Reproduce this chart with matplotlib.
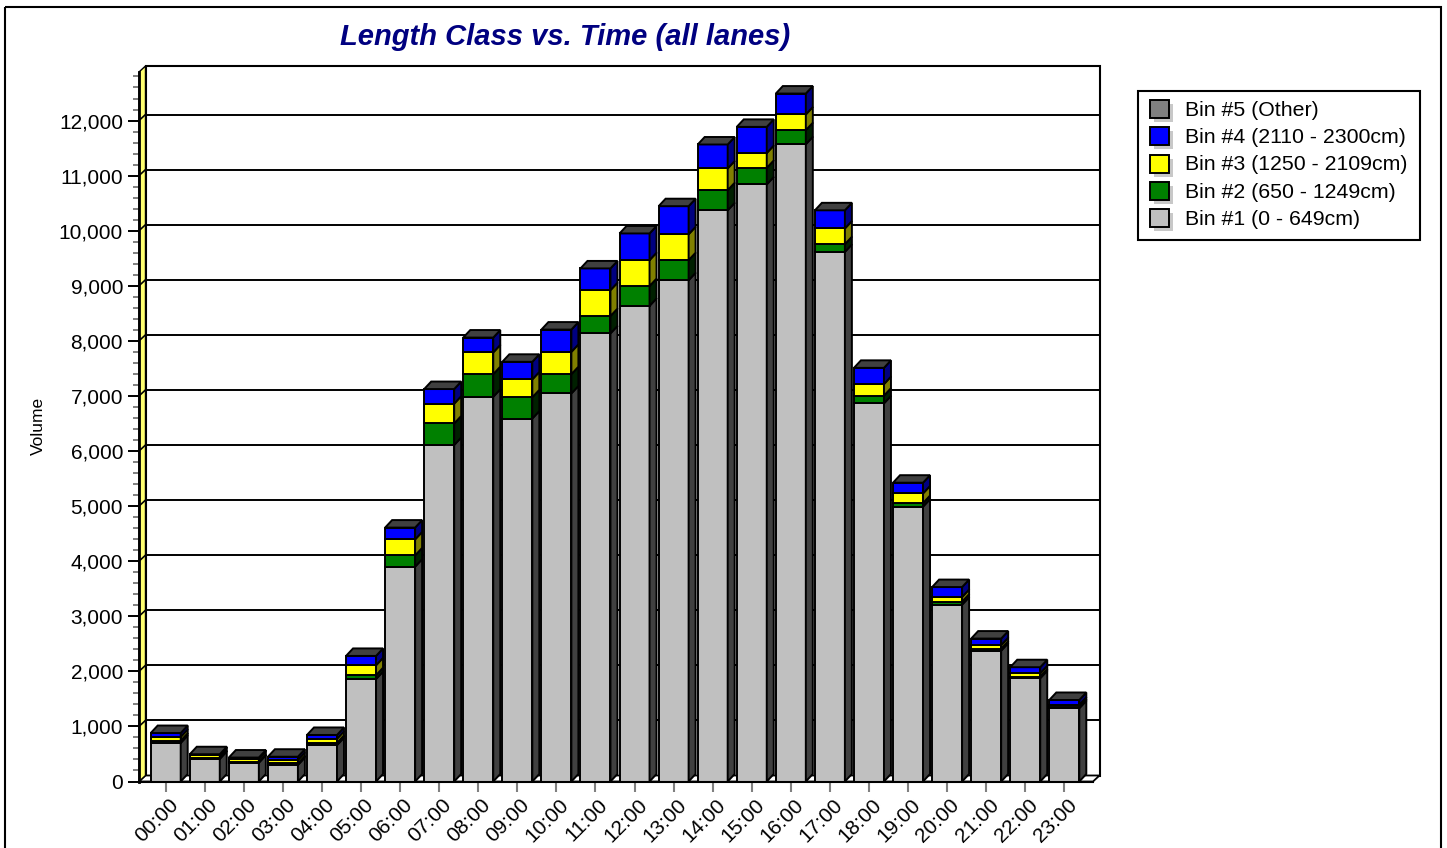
import numpy as np
import matplotlib
matplotlib.use('Agg')
import matplotlib.pyplot as plt
from matplotlib.patches import Polygon, Rectangle
from matplotlib.transforms import ScaledTranslation

# data
hours = ['%02d:00' % h for h in range(24)]
bin1 = [700, 410, 340, 300, 660, 1860, 3900, 6110, 6985, 6590, 7045, 8135,
        8635, 9100, 10370, 10840, 11570, 9615, 6865, 4990, 3210, 2375, 1875, 1330]
bin2 = [40, 15, 15, 30, 40, 70, 205, 390, 410, 385, 350, 315,
        360, 365, 365, 300, 255, 140, 140, 65, 55, 35, 30, 25]
bin3 = [70, 50, 55, 60, 75, 180, 290, 360, 395, 325, 405, 470,
        470, 470, 395, 270, 285, 285, 210, 175, 85, 65, 60, 40]
bin4 = [70, 20, 25, 60, 70, 170, 215, 265, 270, 320, 405, 395,
        485, 510, 435, 475, 380, 330, 295, 195, 180, 120, 110, 85]
bin5 = [0] * 24
legend_labels = ['Bin #5 (Other)', 'Bin #4 (2110 - 2300cm)', 'Bin #3 (1250 - 2109cm)',
                 'Bin #2 (650 - 1249cm)', 'Bin #1 (0 - 649cm)']

series = [bin1, bin2, bin3, bin4, bin5]
face = ['#C0C0C0', '#008000', '#FFFF00', '#0000FF', '#808080']
side = ['#404040', '#002000', '#808000', '#000080', '#404040']

plt.rcParams['font.family'] = ['Liberation Sans', 'DejaVu Sans']

W, H = 1447, 848
fig = plt.figure(figsize=(W / 100, H / 100), dpi=100)

# front plane of the plot, in pixels
x_left, x_right = 139, 1093
y_floor, y_top = 781.5, 72
ax = fig.add_axes([x_left / W, 1 - y_floor / H, (x_right - x_left) / W, (y_floor - y_top) / H])
xl0 = (x_left - 165.7) / 39.07
xl1 = (x_right - 165.7) / 39.07
ytop = (y_floor - y_top) / 0.05508
ax.set_xlim(xl0, xl1)
ax.set_ylim(0, ytop)
ax.patch.set_visible(False)

p0 = ax.transData.transform((0, 0))
p1 = ax.transData.transform((1, 1000))
px_cat = p1[0] - p0[0]
px_val = (p1[1] - p0[1]) / 1000.0
ddx, ddy = 6.5 / px_cat, 6 / px_val    # wall depth
bdx, bdy = 7 / px_cat, 7.5 / px_val    # bar depth
bw = 30 / px_cat

# back wall
ax.add_patch(Polygon([(xl0 + ddx, ddy), (xl1 + ddx, ddy), (xl1 + ddx, ytop + ddy), (xl0 + ddx, ytop + ddy)],
                     closed=True, fc='white', ec='black', lw=1.5, zorder=1, clip_on=False))
for v in range(1000, 13000, 1000):
    ax.plot([xl0 + ddx, xl1 + ddx], [v + ddy, v + ddy], color='black', lw=1.4, zorder=2, clip_on=False)
# floor
ax.add_patch(Polygon([(xl0, 0), (xl1, 0), (xl1 + ddx, ddy), (xl0 + ddx, ddy)],
                     closed=True, fc='white', ec='black', lw=1.3, zorder=3, clip_on=False))
# left wall
ax.add_patch(Polygon([(xl0, 0), (xl0 + ddx, ddy), (xl0 + ddx, ytop + ddy), (xl0, ytop)],
                     closed=True, fc='#FFFF70', ec='black', lw=1.0, zorder=3, clip_on=False))
for v in range(1000, 13000, 1000):
    ax.plot([xl0, xl0 + ddx], [v, v + ddy], color='black', lw=1.2, zorder=4, clip_on=False)

# stacked 3d bars
for i in range(len(hours)):
    xa, xb = i - bw / 2, i + bw / 2
    bottom = 0
    for k, vals in enumerate(series):
        h = vals[i]
        if h <= 0:
            continue
        t = bottom + h
        ax.add_patch(Polygon([(xa, bottom), (xb, bottom), (xb, t), (xa, t)], closed=True,
                             fc=face[k], ec='black', lw=1.4, zorder=5, clip_on=False))
        ax.add_patch(Polygon([(xb, bottom), (xb + bdx, bottom + bdy), (xb + bdx, t + bdy), (xb, t)],
                             closed=True, fc=side[k], ec='black', lw=1.4, zorder=5, clip_on=False))
        bottom = t
    ax.add_patch(Polygon([(xa, bottom), (xb, bottom), (xb + bdx, bottom + bdy), (xa + bdx, bottom + bdy)],
                         closed=True, fc='#404040', ec='black', lw=1.4, zorder=5, clip_on=False))

# axes and ticks
for s in ['top', 'right']:
    ax.spines[s].set_visible(False)
ax.spines['left'].set_linewidth(2.0)
ax.spines['bottom'].set_linewidth(1.5)
ax.spines['left'].set_zorder(6)
ax.spines['bottom'].set_zorder(6)

ax.set_yticks(range(0, 13000, 1000))
ax.set_yticklabels(['{:,}'.format(v) for v in range(0, 13000, 1000)])
ax.set_yticks(np.arange(0, 12801, 200), minor=True)
ax.tick_params(axis='y', which='major', length=7.9, width=1.4, color='black', pad=3.6, labelsize=15)
ax.tick_params(axis='y', which='minor', length=4.3, width=1.4, color='#808080')

ax.set_xticks(range(len(hours)))
ax.set_xticklabels(hours, rotation=45, ha='right', va='center', rotation_mode='anchor')
ax.tick_params(axis='x', length=7.2, width=1.5, color='#808080', pad=7.6, labelsize=15)
for lbl in ax.get_xticklabels():
    lbl.set_transform(lbl.get_transform() + ScaledTranslation(9.5 / 100, 0, fig.dpi_scale_trans))

# overlay in pixel units for title, legend and frame
lax = fig.add_axes([0, 0, 1, 1])
lax.set_xlim(0, W)
lax.set_ylim(H, 0)
lax.axis('off')
lax.add_patch(Rectangle((5, 7), 1436, 870, fill=False, ec='black', lw=1.5))

lax.text(565, 45, 'Length Class vs. Time (all lanes)', ha='center', va='baseline', fontsize=21,
         fontweight='bold', fontstyle='italic', color='#000080')
lax.text(38, 426, 'Volume', rotation=90, ha='center', va='center', fontsize=12.5)

lax.add_patch(Rectangle((1137.5, 91), 282.5, 149, fc='white', ec='black', lw=1.5))
leg_colors = face[::-1]
for i, lab in enumerate(legend_labels):
    top = 100 + 27.3 * i
    lax.add_patch(Rectangle((1153.5, top + 4), 19, 18, fc='#C8C8C8', ec='none'))
    lax.add_patch(Rectangle((1149.5, top), 19, 18, fc=leg_colors[i], ec='black', lw=1.4))
    lax.text(1185, 115.7 + 27.3 * i, lab, fontsize=15.3, ha='left', va='baseline')

fig.savefig('out.png', dpi=100)
